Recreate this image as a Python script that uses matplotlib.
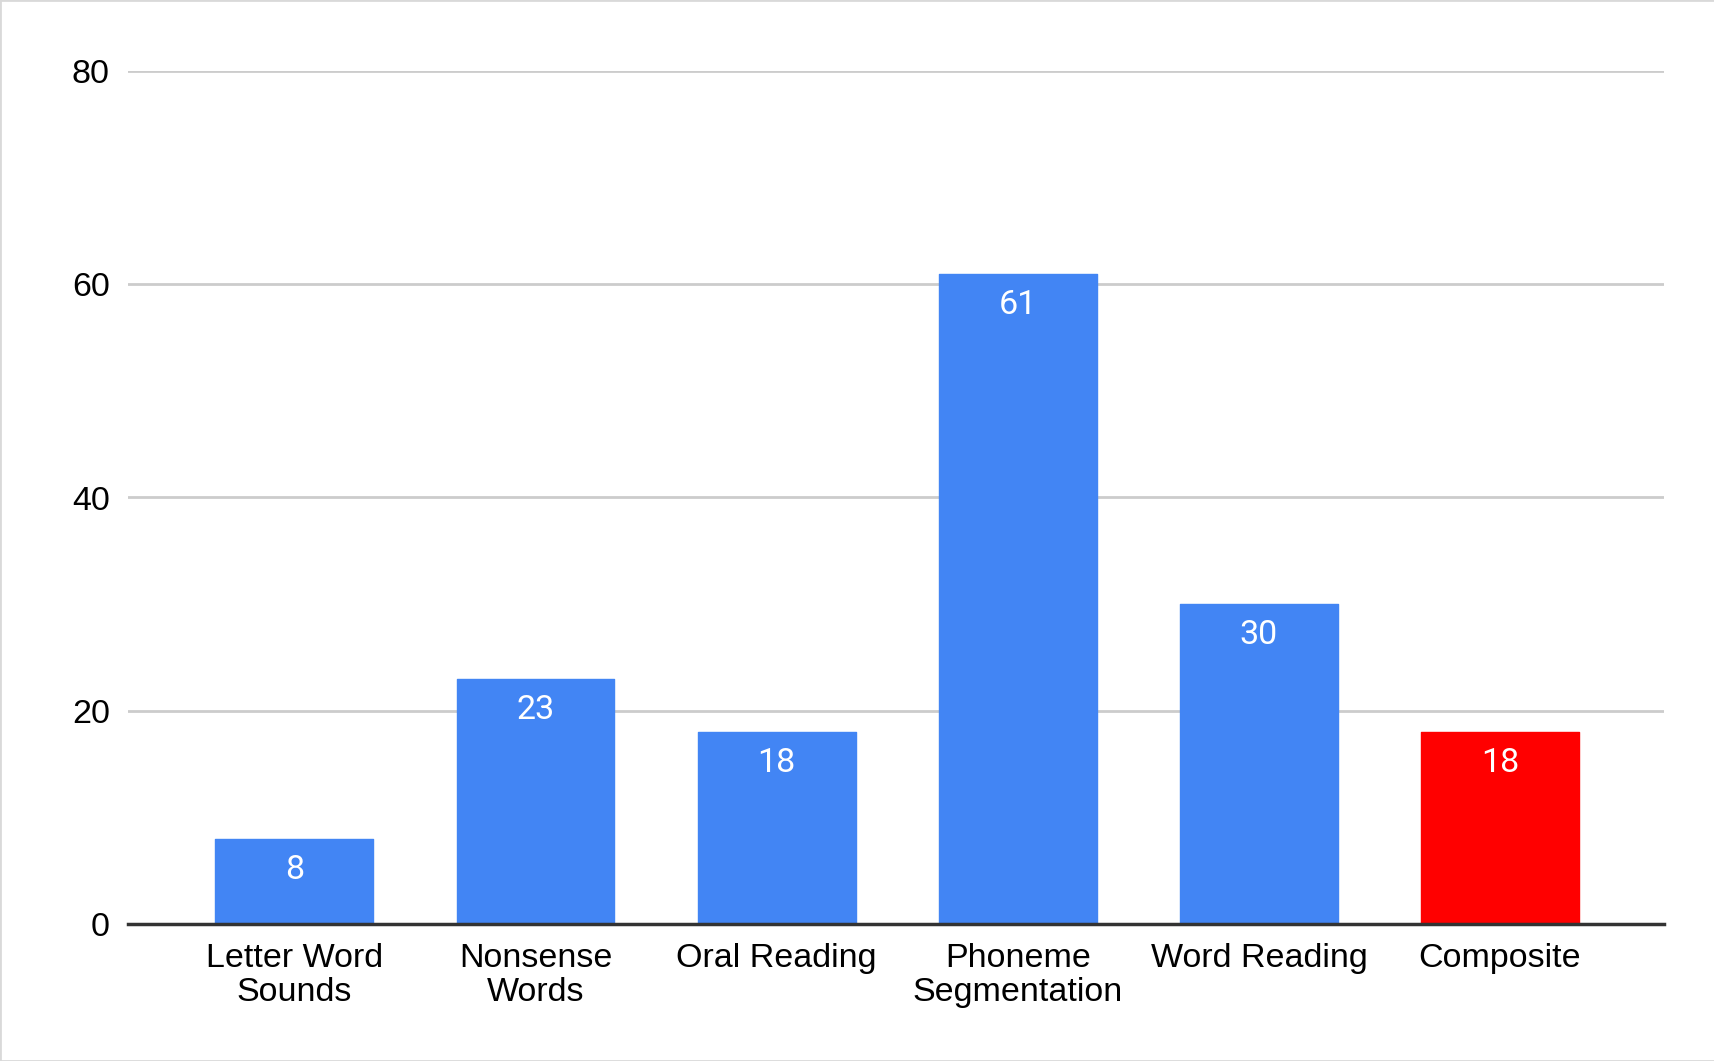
import matplotlib
matplotlib.use("Agg")
import matplotlib.pyplot as plt
from matplotlib.patches import Rectangle

categories = ["Letter Word\nSounds", "Nonsense\nWords", "Oral Reading",
              "Phoneme\nSegmentation", "Word Reading", "Composite"]
values = [8, 23, 18, 61, 30, 18]
colors = ["#4285F4", "#4285F4", "#4285F4", "#4285F4", "#4285F4", "#FF0000"]
yticks = [0, 20, 40, 60, 80]

W, H = 1715, 1061
fig = plt.figure(figsize=(W / 100, H / 100), dpi=100)
fig.patch.set_facecolor("white")
fig.patches.append(Rectangle((0, 0), 1, 1, transform=fig.transFigure,
                             fill=False, edgecolor="#d9d9d9", linewidth=2))

ax = fig.add_axes([128 / W, 1 - 924 / H, (1664 - 128) / W, (924 - 71) / H])
x = list(range(len(categories)))
bars = ax.bar(x, values, width=0.655, color=colors, edgecolor=colors,
              linewidth=1.0, joinstyle="round", zorder=3)

for xi, v in zip(x, values):
    ax.annotate(str(v), (xi, v), xytext=(0, -31), textcoords="offset pixels",
                ha="center", va="center", color="white", fontsize=24.5,
                family="Roboto", zorder=4)

ax.set_xlim(-0.69, 5.68)
ax.set_ylim(0, 80)
ax.set_yticks(yticks)
ax.set_yticklabels([str(t) for t in yticks])
ax.set_xticks(x)
ax.set_xticklabels(categories, linespacing=1.12)

for lab in ax.get_xticklabels() + ax.get_yticklabels():
    lab.set_fontfamily("Liberation Sans")
    lab.set_fontsize(24.5)
    lab.set_color("#000000")

ax.tick_params(axis="both", length=0)
ax.tick_params(axis="y", pad=13)
ax.tick_params(axis="x", pad=14)
ax.yaxis.grid(True, color="#cccccc", linewidth=2, zorder=0)
ax.set_axisbelow(True)
for s in ["top", "right", "left"]:
    ax.spines[s].set_visible(False)
ax.spines["bottom"].set_color("#333333")
ax.spines["bottom"].set_linewidth(2.5)
ax.spines["bottom"].set_zorder(5)

fig.savefig("out.png", dpi=100)
